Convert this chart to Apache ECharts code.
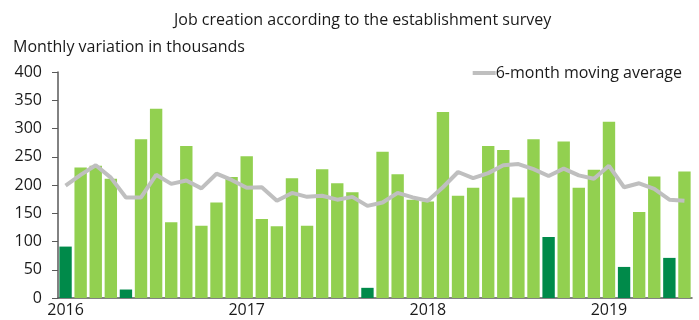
<!DOCTYPE html>
<html>
<head>
<meta charset="utf-8">
<script src="https://cdn.jsdelivr.net/npm/echarts@6/dist/echarts.min.js"></script>
<style>
    html, body { margin: 0; padding: 0; background: #fff; }
    #chart { width: 699px; height: 320px; }
</style>
</head>
<body>
<div id="chart"></div>
<script>
    // tick labels on the x axis (shown on each January)
    var years = ['2016', '2017', '2018', '2019'];
    var monthsPerYear = [12, 12, 12, 6];

    // monthly job creation, thousands (Jan 2016 - Jun 2019)
    var jobs = [91, 231, 234, 211, 15, 281, 335, 134, 269, 128, 169, 214,
                251, 140, 127, 212, 128, 228, 203, 187, 18, 259, 219, 174,
                171, 329, 181, 195, 269, 262, 178, 281, 108, 277, 195, 227,
                312, 55, 152, 215, 71, 224];

    // 6-month moving average
    var movingAvg = [199, 218, 235, 213, 178, 178, 218, 202, 208, 194, 220, 209,
                     195, 196, 172, 186, 179, 181, 174, 179, 163, 169, 186, 178,
                     172, 196, 223, 212, 221, 235, 237, 228, 216, 229, 217, 211,
                     234, 196, 203, 193, 174, 172];

    var categories = [];
    years.forEach(function (y, i) {
        for (var m = 1; m <= monthsPerYear[i]; m++) {
            categories.push(y + '-' + (m < 10 ? '0' + m : m));
        }
    });

    var font = 'Open Sans';
    var chart = echarts.init(document.getElementById('chart'));
    chart.setOption({
        animation: false,
        textStyle: {fontFamily: font},
        title: [
            {
                text: 'Job creation according to the establishment survey',
                left: 169,
                top: 7,
                textStyle: {fontSize: 16, fontWeight: 'normal', color: '#1a1a1a', fontFamily: font}
            },
            {
                text: 'Monthly variation in thousands',
                left: 8,
                top: 34,
                textStyle: {fontSize: 16, fontWeight: 'normal', color: '#1a1a1a', fontFamily: font}
            }
        ],
        legend: {
            data: [{name: '6-month moving average', icon: 'rect'}],
            right: 12,
            top: 60,
            itemWidth: 23,
            itemHeight: 4,
            textStyle: {fontSize: 16, color: '#1a1a1a', fontFamily: font, padding: [0, 0, 0, -5]}
        },
        grid: {
            left: 58,
            right: 7,
            top: 72,
            bottom: 22
        },
        xAxis: {
            type: 'category',
            data: categories,
            axisLine: {lineStyle: {color: '#595959', width: 1.5}},
            axisTick: {show: false},
            axisLabel: {
                interval: 0,
                fontSize: 16,
                color: '#1a1a1a',
                margin: 4,
                formatter: function (v) {
                    return v.slice(5) === '01' ? v.slice(0, 4) : '';
                }
            }
        },
        yAxis: {
            type: 'value',
            min: 0,
            max: 400,
            interval: 50,
            splitLine: {show: false},
            axisLine: {show: true, lineStyle: {color: '#595959', width: 1.5}},
            axisTick: {show: true, length: 6, lineStyle: {color: '#595959'}},
            axisLabel: {fontSize: 16, color: '#1a1a1a', margin: 16}
        },
        series: [
            {
                name: 'Jobs',
                type: 'bar',
                data: jobs,
                barCategoryGap: '18%',
                itemStyle: {
                    color: function (p) {
                        return p.value < 120 ? '#008a4a' : '#92d050';
                    }
                }
            },
            {
                name: '6-month moving average',
                type: 'line',
                data: movingAvg,
                symbol: 'none',
                lineStyle: {color: '#bfbfbf', width: 4},
                itemStyle: {color: '#bfbfbf'}
            }
        ]
    });
</script>
</body>
</html>
